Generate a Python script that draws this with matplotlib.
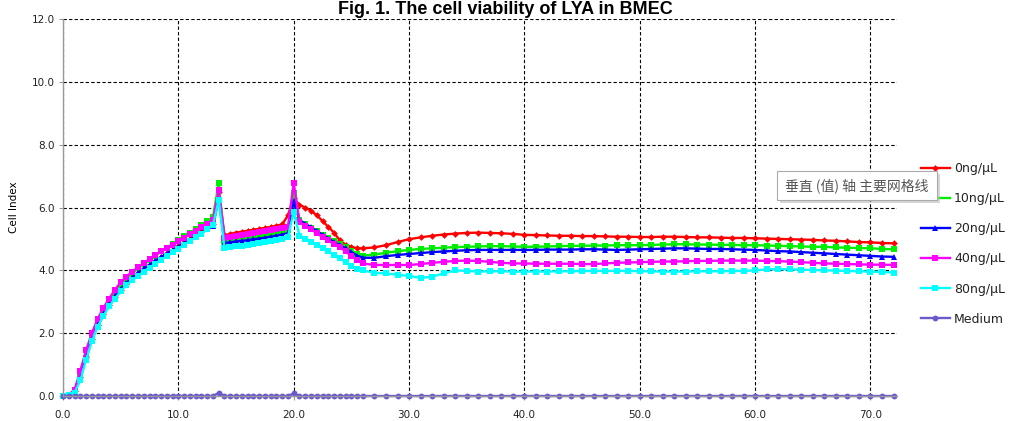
import numpy as np
import matplotlib
matplotlib.use("Agg")
import matplotlib.pyplot as plt
from matplotlib.patches import Rectangle

# Sampling times (h): every 0.5 h up to 26 h, then hourly
hours = np.concatenate([np.arange(0, 26.5, 0.5), np.arange(27, 73, 1)])

ci_0 = [0.0, 0.03, 0.15, 0.6, 1.25, 1.8, 2.25, 2.6, 2.9, 3.15, 3.38, 3.58, 3.75, 3.9,
        4.04, 4.17, 4.3, 4.42, 4.54, 4.66, 4.78, 4.9, 5.01, 5.12, 5.24, 5.35, 5.47,
        6.5, 5.12,
        5.16, 5.2, 5.23, 5.26, 5.29, 5.32, 5.35, 5.38, 5.42, 5.46, 5.75,
        6.3,
        6.08, 6.0, 5.9, 5.75, 5.57, 5.38, 5.2, 4.95, 4.82, 4.75, 4.7, 4.7,
        4.73, 4.8, 4.9, 4.99, 5.05, 5.1, 5.14, 5.17, 5.19, 5.2,
        5.19, 5.18, 5.16, 5.13, 5.12, 5.11, 5.1, 5.1, 5.09, 5.09,
        5.08, 5.07, 5.07, 5.06, 5.06, 5.07, 5.07, 5.06, 5.05, 5.05,
        5.04, 5.03, 5.03, 5.02, 5.01, 5.0, 4.99, 4.98, 4.97, 4.95,
        4.94, 4.92, 4.9, 4.89, 4.87, 4.86]

ci_10 = [0.0, 0.03, 0.15, 0.6, 1.22, 1.8, 2.28, 2.65, 2.97, 3.25, 3.5, 3.72, 3.9, 4.06,
         4.2, 4.34, 4.47, 4.6, 4.72, 4.84, 4.96, 5.08, 5.2, 5.32, 5.44, 5.56, 5.7,
         6.78, 4.92,
         4.95, 4.98, 5.01, 5.04, 5.07, 5.1, 5.13, 5.16, 5.2, 5.23, 5.27,
         6.46,
         5.6, 5.48, 5.36, 5.24, 5.12, 5.02, 4.93, 4.84, 4.73, 4.62, 4.53, 4.47,
         4.5, 4.56, 4.61, 4.65, 4.68, 4.7, 4.72, 4.74, 4.75, 4.76,
         4.77, 4.77, 4.76, 4.75, 4.75, 4.76, 4.77, 4.78, 4.78, 4.79,
         4.79, 4.8, 4.8, 4.8, 4.81, 4.82, 4.83, 4.83, 4.82, 4.82,
         4.81, 4.81, 4.8, 4.8, 4.79, 4.78, 4.77, 4.76, 4.75, 4.75,
         4.73, 4.72, 4.71, 4.7, 4.68, 4.67]

ci_20 = [0.0, 0.03, 0.15, 0.65, 1.3, 1.85, 2.28, 2.62, 2.92, 3.18, 3.4, 3.6, 3.77, 3.92,
         4.06, 4.18, 4.3, 4.42, 4.53, 4.64, 4.75, 4.86, 4.97, 5.08, 5.19, 5.3, 5.4,
         6.3, 4.87,
         4.89, 4.92, 4.94, 4.96, 4.99, 5.01, 5.04, 5.07, 5.1, 5.14, 5.18,
         6.2,
         5.6, 5.48, 5.37, 5.25, 5.13, 5.01, 4.9, 4.8, 4.7, 4.58, 4.47, 4.4,
         4.4, 4.45, 4.49, 4.52, 4.55, 4.58, 4.6, 4.62, 4.64, 4.65,
         4.65, 4.65, 4.65, 4.65, 4.65, 4.66, 4.66, 4.66, 4.67, 4.67,
         4.66, 4.65, 4.66, 4.67, 4.68, 4.69, 4.7, 4.7, 4.69, 4.68,
         4.68, 4.67, 4.66, 4.65, 4.63, 4.61, 4.6, 4.58, 4.56, 4.54,
         4.52, 4.5, 4.48, 4.46, 4.44, 4.43]

ci_40 = [0.0, 0.04, 0.2, 0.8, 1.45, 2.0, 2.45, 2.8, 3.1, 3.38, 3.62, 3.8, 3.96, 4.1,
         4.23, 4.36, 4.48, 4.6, 4.71, 4.82, 4.93, 5.04, 5.15, 5.26, 5.37, 5.48, 5.6,
         6.56, 5.03,
         5.06, 5.1, 5.13, 5.16, 5.19, 5.22, 5.25, 5.28, 5.31, 5.35, 5.39,
         6.78,
         5.55, 5.42, 5.3, 5.18, 5.06, 4.95, 4.84, 4.74, 4.6, 4.45, 4.32, 4.22,
         4.17, 4.17, 4.17, 4.17, 4.2, 4.24, 4.27, 4.3, 4.31, 4.3,
         4.27, 4.24, 4.22, 4.22, 4.21, 4.21, 4.21, 4.21, 4.2, 4.2,
         4.22, 4.24, 4.25, 4.26, 4.27, 4.28, 4.28, 4.29, 4.3, 4.3,
         4.31, 4.31, 4.31, 4.31, 4.3, 4.29, 4.28, 4.26, 4.24, 4.22,
         4.21, 4.2, 4.19, 4.18, 4.18, 4.17]

ci_80 = [0.0, 0.02, 0.1, 0.5, 1.15, 1.75, 2.2, 2.55, 2.85, 3.1, 3.33, 3.52, 3.68, 3.82,
         3.96, 4.09, 4.21, 4.33, 4.45, 4.57, 4.69, 4.81, 4.93, 5.05, 5.17, 5.3, 5.44,
         6.24, 4.71,
         4.74, 4.77, 4.79, 4.82, 4.85, 4.88, 4.91, 4.94, 4.97, 5.01, 5.06,
         5.87,
         5.1, 5.0, 4.9, 4.8, 4.7, 4.6, 4.5, 4.38, 4.25, 4.15, 4.05, 4.0,
         3.92, 3.9, 3.86, 3.82, 3.76, 3.8, 3.9, 4.0, 3.98, 3.96,
         3.97, 3.97, 3.96, 3.96, 3.96, 3.96, 3.97, 3.97, 3.98, 3.98,
         3.98, 3.98, 3.98, 3.97, 3.97, 3.96, 3.96, 3.96, 3.97, 3.97,
         3.97, 3.98, 3.98, 4.0, 4.03, 4.04, 4.03, 4.02, 4.01, 4.0,
         3.99, 3.98, 3.97, 3.96, 3.95, 3.93]

ci_medium = ([0.0] * 27 + [0.1] + [0.0] * 12 + [0.08] + [0.0] * 12) + [0.0] * 46

labels = ["0ng/\u03bcL", "10ng/\u03bcL", "20ng/\u03bcL", "40ng/\u03bcL", "80ng/\u03bcL", "Medium"]
series = [ci_0, ci_10, ci_20, ci_40, ci_80, ci_medium]
colors = ["#FF0000", "#00EE00", "#0000FF", "#FF00FF", "#00FFFF", "#6A5ACD"]
markers = ["D", "s", "^", "s", "s", "o"]
msizes = [3.4, 4.0, 4.2, 4.0, 4.0, 4.2]

xticks = [0, 10, 20, 30, 40, 50, 60, 70]
yticks = [0, 2, 4, 6, 8, 10, 12]

W, H = 1009, 421
fig = plt.figure(figsize=(W / 100, H / 100), dpi=100)
ax = fig.add_axes([63 / W, (H - 396) / H, (897 - 63) / W, (396 - 19) / H])

handles = []
for vals, lab, col, mk, ms in zip(series, labels, colors, markers, msizes):
    h, = ax.plot(hours, vals, color=col, marker=mk, markersize=ms, linewidth=1.7,
                 markeredgewidth=0, label=lab, clip_on=False)
    handles.append(h)

ax.set_xlim(0, 72.3)
ax.set_ylim(0, 12)
ax.set_xticks(xticks)
ax.set_yticks(yticks)
ax.set_xticklabels([f"{v:.1f}" for v in xticks])
ax.set_yticklabels([f"{v:.1f}" for v in yticks])

tick_font = dict(family="DejaVu Sans", size=7.5)
for lbl in ax.get_xticklabels() + ax.get_yticklabels():
    lbl.set_fontfamily("DejaVu Sans")
    lbl.set_fontsize(7.5)
    lbl.set_color("#222222")

ax.tick_params(axis="both", direction="out", length=3, color="#999999", pad=3)
ax.tick_params(axis="x", pad=7)
for side in ("top", "right"):
    ax.spines[side].set_visible(False)
for side in ("left", "bottom"):
    ax.spines[side].set_color("#999999")
    ax.spines[side].set_linewidth(1.0)

ax.grid(True, color="black", linestyle=(0, (3, 2)), linewidth=0.8)
ax.set_axisbelow(True)

ax.set_ylabel("Cell Index", fontdict=tick_font, labelpad=9)

fig.text(505 / W, 1 - 14 / H, "Fig. 1. The cell viability of LYA in BMEC",
         ha="center", va="baseline", fontsize=13, fontweight="bold",
         family="Liberation Sans")

leg = fig.legend(handles=handles, loc="upper left",
                 bbox_to_anchor=(916 / W, 1 - 157 / H),
                 frameon=False, fontsize=9, handlelength=2.3,
                 handletextpad=0.35, labelspacing=1.37, borderaxespad=0)
for t in leg.get_texts():
    t.set_color("#222222")

# hover label box
fig.patches.append(Rectangle((780 / W, 1 - 203 / H), 160 / W, 29 / H,
                             transform=fig.transFigure, facecolor="#BBBBBB",
                             edgecolor="none", alpha=0.6, zorder=10))
fig.patches.append(Rectangle((777 / W, 1 - 200 / H), 160 / W, 29 / H,
                             transform=fig.transFigure, facecolor="white",
                             edgecolor="#AAAAAA", linewidth=0.8, zorder=11))
fig.text(857 / W, 1 - 186 / H, "垂直 (值) 轴 主要网格线", ha="center", va="center",
         fontsize=10, color="#555555",
         family=["Noto Sans CJK SC", "DejaVu Sans"], zorder=12)

fig.savefig("out.png", dpi=100)
